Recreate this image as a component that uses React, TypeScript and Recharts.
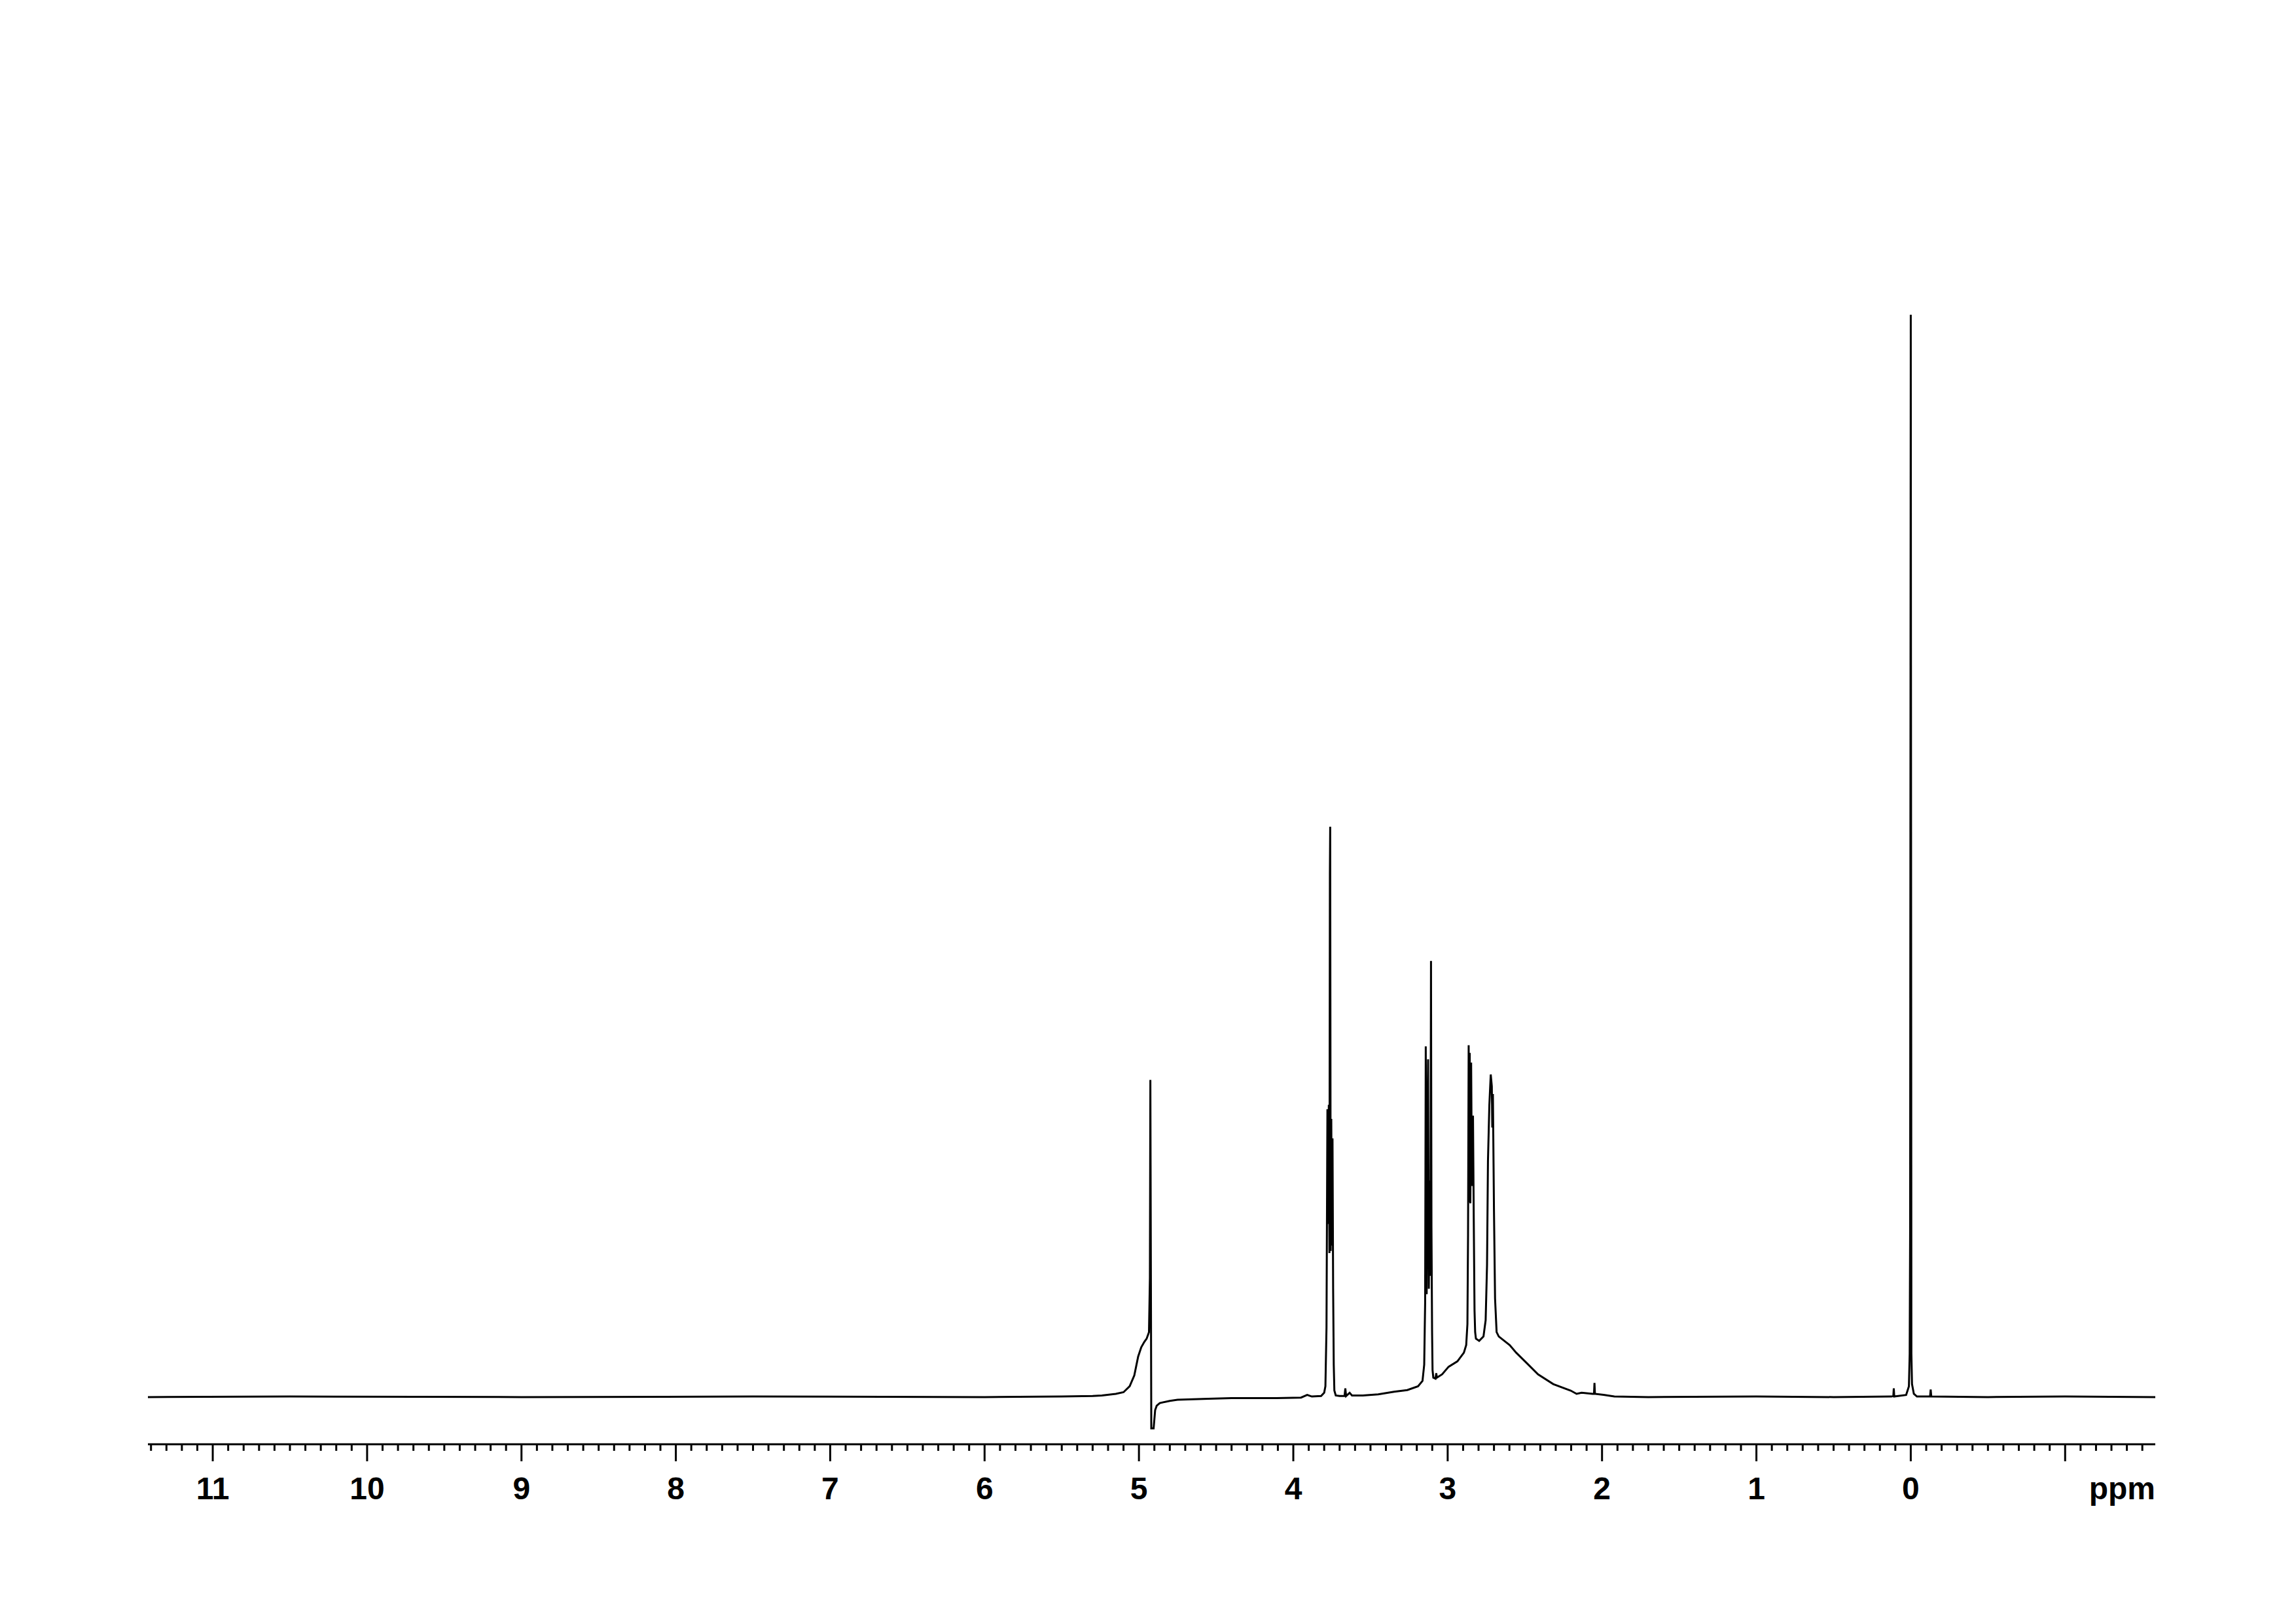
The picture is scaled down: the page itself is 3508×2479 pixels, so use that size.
import { LineChart, Line, XAxis, YAxis } from 'recharts';

// chemical shift (ppm) and intensity (TMS peak = 100)
const shifts = [
    11.42, 10.5, 9.0, 7.5, 6.0, 5.5, 5.3, 5.24, 5.15, 5.1, 5.06, 5.03, 5.005, 4.985, 4.965, 4.95, 4.935,
    4.929, 4.926, 4.922, 4.92, 4.905, 4.895, 4.885, 4.865, 4.8, 4.75, 4.55, 4.4, 4.11, 3.95, 3.91, 3.88,
    3.82, 3.8, 3.792, 3.785, 3.779, 3.775, 3.77, 3.766, 3.763, 3.761, 3.758, 3.754, 3.75, 3.746, 3.742,
    3.738, 3.734, 3.725, 3.7, 3.668, 3.663, 3.658, 3.635, 3.62, 3.55, 3.45, 3.347, 3.262, 3.192, 3.163,
    3.152, 3.146, 3.142, 3.136, 3.131, 3.127, 3.122, 3.116, 3.112, 3.108, 3.105, 3.101, 3.098, 3.093,
    3.079, 3.074, 3.07, 3.036, 2.994, 2.937, 2.895, 2.88, 2.872, 2.868, 2.864, 2.86, 2.857, 2.853, 2.848,
    2.843, 2.836, 2.831, 2.826, 2.822, 2.817, 2.796, 2.768, 2.754, 2.745, 2.739, 2.73, 2.721, 2.714,
    2.711, 2.707, 2.7, 2.693, 2.683, 2.669, 2.598, 2.556, 2.485, 2.414, 2.316, 2.203, 2.165, 2.132,
    2.061, 2.052, 2.049, 2.046, 1.99, 1.92, 1.7, 1.0, 0.5, 0.125, 0.113, 0.11, 0.107, 0.03, 0.012,
    0.007, 0.004, 0.0, -0.004, -0.008, -0.02, -0.04, -0.125, -0.129, -0.133, -0.5, -1.0, -1.584,
];
const intensities = [
    0, 0.05, 0, 0.05, 0, 0.05, 0.1, 0.15, 0.3, 0.45, 1.0, 2.0, 3.75, 4.6, 5.1, 5.4, 6.0,
    11.0, 29.3, 8, -2.9, -2.9, -1.2, -0.8, -0.55, -0.35, -0.25, -0.15, -0.1, -0.1, -0.05, 0.2, 0.05,
    0.1, 0.4, 1.0, 6.4, 26.6, 16, 27, 13.3, 48.4, 52.7, 13.5, 25.7, 14, 23.9, 10,
    3.0, 0.6, 0.15, 0.1, 0.1, 0.8, 0.1, 0.4, 0.15, 0.15, 0.25, 0.5, 0.65, 1.0, 1.5,
    3.0, 8.7, 32.4, 9.5, 25, 31.2, 10, 20, 11.2, 40.3, 15.6, 6, 2.5, 1.8,
    1.7, 2.2, 1.8, 2.1, 2.8, 3.3, 4.1, 4.8, 6.75, 15, 32.5, 18, 31.8, 17.9, 30.9,
    19.5, 26.0, 16.4, 8, 6.0, 5.4, 5.2, 5.6, 7.1, 12.2, 21.8, 27, 29.8, 28.7,
    24.9, 28.0, 17.2, 9.1, 6.0, 5.6, 4.8, 4.1, 3.1, 2.1, 1.2, 0.6, 0.3, 0.4,
    0.3, 0.3, 1.3, 0.3, 0.2, 0.06, 0.0, 0.05, 0, 0.05, 0.1, 0.8, 0.05, 0.2, 1.0,
    4.0, 15.6, 100, 4.0, 1.2, 0.3, 0.05, 0.05, 0.7, 0.05, 0, 0.05, 0,
];

const majorTicks = [11, 10, 9, 8, 7, 6, 5, 4, 3, 2, 1, 0, -1];
const majorLabels = ['11', '10', '9', '8', '7', '6', '5', '4', '3', '2', '1', '0', ''];

// minor ticks every 0.1 ppm across the axis
const allTicks: number[] = [];
for (let i = 114; i >= -15; i--) allTicks.push(i / 10);

const data = shifts.map((ppm, i) => ({ ppm, y: intensities[i] }));

const FONT = '"Liberation Sans", Arial, sans-serif';

function renderTick(props: any) {
    const { x, y, payload } = props;
    const v = payload.value;
    const idx = majorTicks.findIndex((m) => Math.abs(m - v) < 1e-6);
    if (idx < 0) {
        return <line x1={x} x2={x} y1={y} y2={y + 10} stroke="#000" strokeWidth={3} />;
    }
    return (
        <g>
            <line x1={x} x2={x} y1={y} y2={y + 26} stroke="#000" strokeWidth={3} />
            <text x={x} y={y + 84} textAnchor="middle" fontFamily={FONT} fontWeight="bold" fontSize={48} fill="#000">
                {majorLabels[idx]}
            </text>
        </g>
    );
}

function renderPpm(props: any) {
    const vb = props.viewBox;
    return (
        <text x={vb.x + vb.width} y={vb.y + 84} textAnchor="end" fontFamily={FONT} fontWeight="bold" fontSize={48} fill="#000">
            ppm
        </text>
    );
}

export default function App() {
    return (
        <div style={{ background: '#fff' }}>
            <LineChart width={3400} height={2400} data={data} margin={{ top: 390, right: 115, bottom: 82, left: 218 }}>
                <XAxis
                    dataKey="ppm"
                    type="number"
                    domain={[-1.584, 11.42]}
                    reversed
                    allowDataOverflow
                    ticks={allTicks}
                    interval={0}
                    tick={renderTick}
                    tickLine={false}
                    tickSize={0}
                    tickMargin={0}
                    height={120}
                    axisLine={{ stroke: '#000', strokeWidth: 3 }}
                    label={{ value: 'ppm', content: renderPpm }}
                />
                <YAxis hide type="number" domain={[-4.36, 105]} allowDataOverflow />
                <Line
                    type="linear"
                    dataKey="y"
                    stroke="#000"
                    strokeWidth={3}
                    dot={false}
                    isAnimationActive={false}
                />
            </LineChart>
        </div>
    );
}
